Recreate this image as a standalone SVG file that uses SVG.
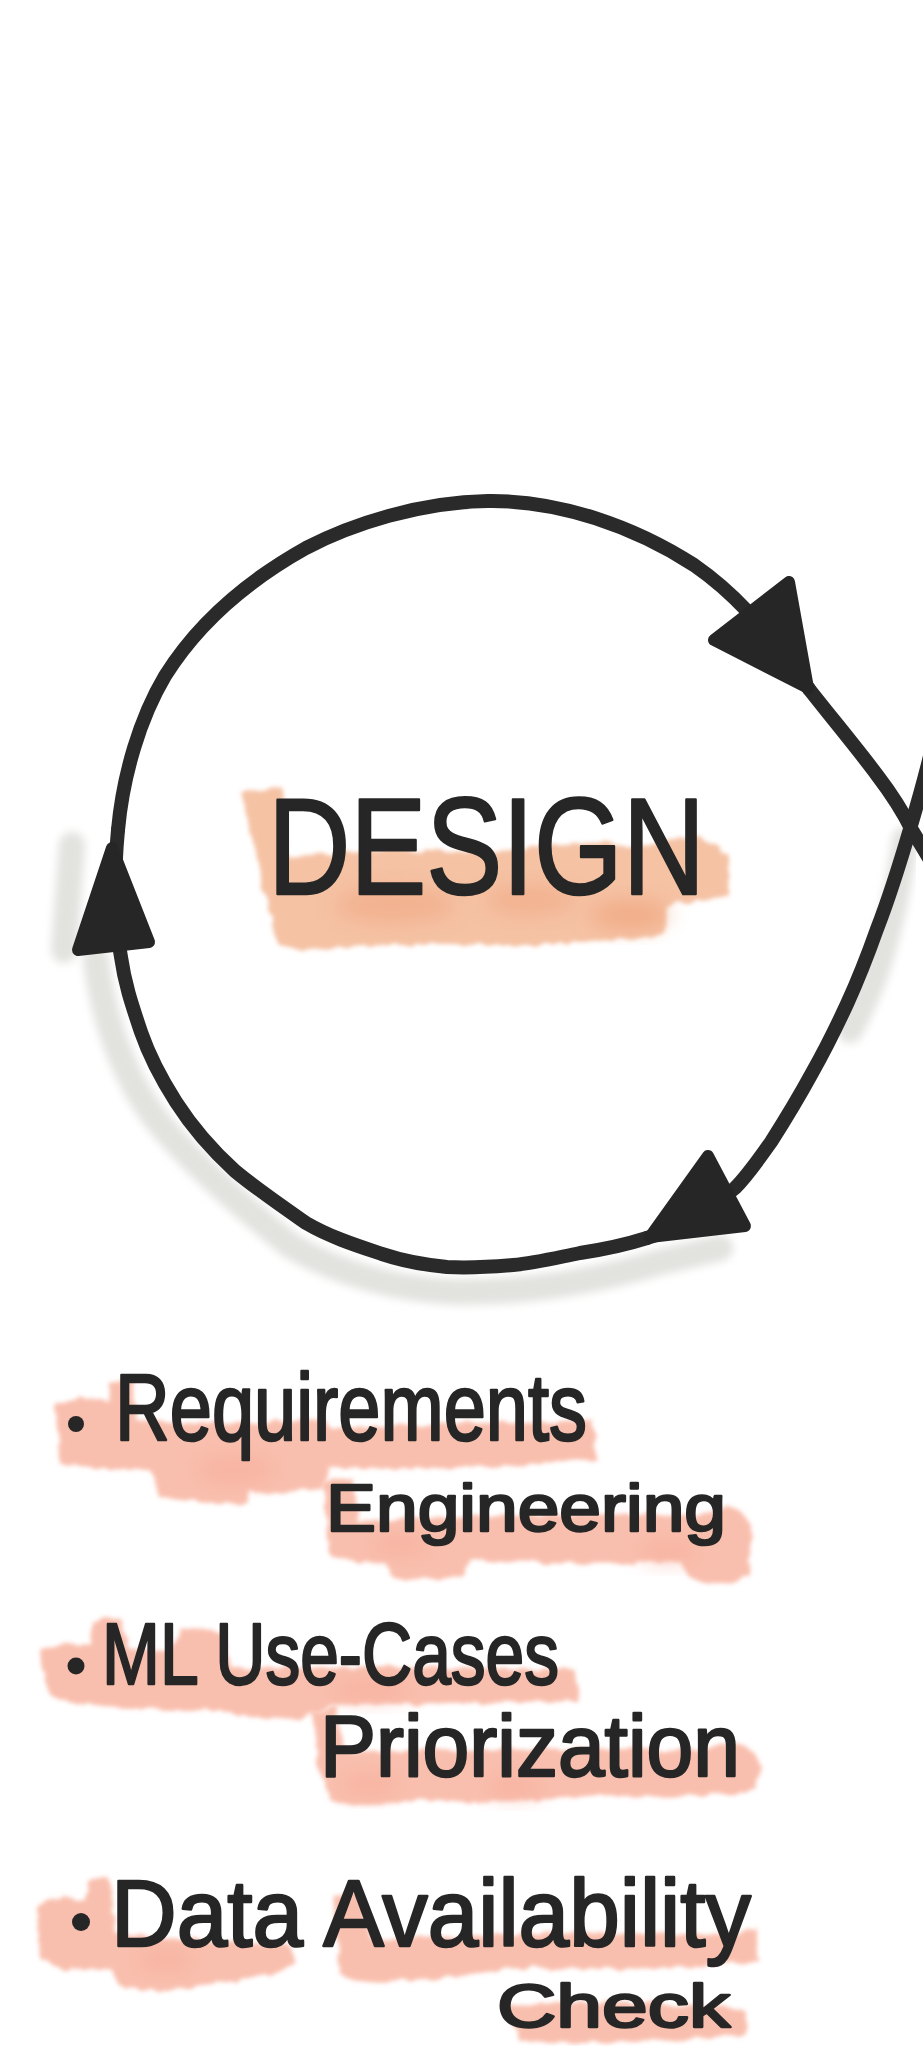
<svg xmlns="http://www.w3.org/2000/svg" width="923" height="2046" viewBox="0 0 923 2046">
<defs>
<style>
.ln{fill:none;stroke:#2a2a2a;stroke-width:14;stroke-linecap:round;stroke-linejoin:round}
.ah{fill:#262626;stroke:#262626;stroke-width:12;stroke-linejoin:round}
.sh{fill:none;stroke:#e2e2df;stroke-width:26;stroke-linecap:round;filter:url(#blur)}
.hp{fill:#f9bfae;filter:url(#wc)}
.ho{fill:#f5c2a4;filter:url(#wc)}
.t{font-family:"Liberation Sans",Arial,sans-serif;fill:#262626;stroke:#262626;stroke-width:2.5;stroke-linejoin:round;stroke-linecap:round}
</style>
<filter id="wc" x="-10%" y="-40%" width="120%" height="180%">
<feTurbulence type="fractalNoise" baseFrequency="0.07" numOctaves="2" seed="4" result="n"/>
<feDisplacementMap in="SourceGraphic" in2="n" scale="9" xChannelSelector="R" yChannelSelector="G" result="d"/>
<feGaussianBlur in="d" stdDeviation="2.2"/>
</filter>
<filter id="blur" x="-20%" y="-20%" width="140%" height="140%"><feGaussianBlur stdDeviation="4"/></filter>
<filter id="spot" x="-50%" y="-50%" width="200%" height="200%"><feGaussianBlur stdDeviation="10"/></filter>
</defs>
<rect width="923" height="2046" fill="#ffffff"/>

<g id="shadows">
<path class="sh" d="M72,845 L64,950 M96,960 C105,1030 130,1090 165,1130 C200,1170 240,1205 290,1245 C340,1275 400,1290 460,1292 C530,1292 600,1280 660,1262 L720,1248"/>
<path class="sh" d="M905,840 C900,880 890,930 875,975 C865,1000 858,1015 850,1030"/>
</g>

<g id="design-highlight">
<path class="ho" d="M241,792 L282,786 L288,858 Q400,846 500,852 Q580,838 640,846 L700,836 L729,855 L728,896 L668,905 L664,936 Q560,944 500,946 Q400,940 300,950 L278,946 L262,880 Z"/>
<ellipse cx="395" cy="905" rx="60" ry="18" fill="#efa27c" opacity="0.5" filter="url(#spot)"/>
<ellipse cx="530" cy="900" rx="45" ry="15" fill="#efa27c" opacity="0.5" filter="url(#spot)"/>
<ellipse cx="630" cy="915" rx="40" ry="15" fill="#ee9c72" opacity="0.55" filter="url(#spot)"/>
</g>

<g id="connectors">
<path class="ln" d="M118,830 C123,775 140,718 165,676 C195,628 240,585 306,548 C352,524 420,502 488,501 C560,500 635,527 694,565 C730,590 762,622 809,689"/>
<path class="ln" d="M809,689 C835,722 860,752 877,775 C890,792 902,810 912,830 L935,868"/>
<path class="ln" d="M935,735 C925,780 898,875 877,929 C866,960 858,980 847,1004 C835,1030 825,1050 812,1073 C800,1095 785,1120 771,1142 C758,1160 748,1175 735,1188 C715,1205 690,1225 647,1238"/>
<path class="ln" d="M647,1238 C625,1245 600,1250 580,1253 C555,1258 535,1263 513,1265 C490,1267 468,1268 447,1267 C425,1265 400,1260 382,1254 C355,1245 330,1237 306,1223 C280,1205 258,1190 235,1171 C212,1150 192,1127 176,1102 C162,1080 150,1058 141,1032 C132,1005 125,985 121,957 C117,935 115,915 115,900 C115,870 116,850 118,830"/>
<polygon class="ah" points="789,582 714,640 808,688"/>
<polygon class="ah" points="708,1156 745,1226 650,1237"/>
<polygon class="ah" points="112,848 78,950 149,942"/>
</g>

<g id="design-label">
<text class="t" x="268" y="894" font-size="138" textLength="437" lengthAdjust="spacingAndGlyphs" stroke-width="1">DESIGN</text>
</g>

<g id="item-requirements">
<path class="hp" d="M55,1405 Q80,1396 108,1400 L110,1382 L132,1378 L138,1420 Q220,1426 322,1420 L332,1428 Q450,1424 593,1420 L596,1460 Q450,1470 330,1468 L322,1488 Q270,1495 250,1490 L248,1502 Q200,1506 160,1496 L150,1470 Q100,1470 60,1465 Z"/>
<ellipse cx="235" cy="1470" rx="40" ry="15" fill="#f7a996" opacity="0.5" filter="url(#spot)"/>
<path class="hp" d="M322,1482 L352,1478 L360,1520 Q540,1512 700,1515 L730,1505 Q752,1515 752,1540 L750,1575 Q720,1590 690,1578 L680,1562 Q560,1566 470,1560 L465,1576 Q420,1584 395,1578 L385,1562 Q350,1562 330,1556 Z"/>
<ellipse cx="400" cy="1545" rx="30" ry="12" fill="#f7a996" opacity="0.5" filter="url(#spot)"/>
<ellipse cx="668" cy="1552" rx="30" ry="12" fill="#f7a996" opacity="0.5" filter="url(#spot)"/>
<circle cx="76" cy="1424" r="8" fill="#262626"/>
<text class="t" x="115" y="1440" font-size="94" textLength="472" lengthAdjust="spacingAndGlyphs">Requirements</text>
<text class="t" x="326" y="1531" font-size="66" textLength="400" lengthAdjust="spacingAndGlyphs">Engineering</text>
</g>

<g id="item-usecases">
<path class="hp" d="M40,1650 Q60,1640 90,1645 L92,1622 L120,1618 L130,1650 L170,1650 L180,1630 Q200,1625 225,1635 L230,1668 Q400,1666 575,1670 L578,1700 Q450,1705 330,1706 L300,1720 Q250,1718 220,1710 Q130,1712 60,1700 Q42,1690 40,1650 Z"/>
<ellipse cx="370" cy="1690" rx="40" ry="12" fill="#f7a996" opacity="0.5" filter="url(#spot)"/>
<path class="hp" d="M313,1712 L335,1706 L345,1752 Q500,1746 700,1750 L735,1743 Q760,1750 760,1770 L755,1790 Q700,1800 600,1795 Q500,1805 420,1800 Q360,1810 330,1800 L320,1770 Z"/>
<ellipse cx="370" cy="1785" rx="30" ry="12" fill="#f7a996" opacity="0.5" filter="url(#spot)"/>
<ellipse cx="515" cy="1787" rx="30" ry="12" fill="#f7a996" opacity="0.5" filter="url(#spot)"/>
<circle cx="76" cy="1666" r="8.5" fill="#262626"/>
<text class="t" x="102" y="1684" font-size="88" textLength="457" lengthAdjust="spacingAndGlyphs">ML Use-Cases</text>
<text class="t" x="320" y="1776" font-size="88" textLength="420" lengthAdjust="spacingAndGlyphs">Priorization</text>
</g>

<g id="item-data">
<path class="hp" d="M37,1905 Q60,1895 85,1900 L88,1880 L110,1876 L115,1935 Q200,1940 290,1945 L298,1965 Q260,1980 200,1985 Q160,1995 120,1985 L110,1968 Q60,1975 40,1960 Z"/>
<ellipse cx="165" cy="1960" rx="30" ry="12" fill="#f7a996" opacity="0.5" filter="url(#spot)"/>
<path class="hp" d="M333,1895 L360,1890 L370,1940 Q550,1930 720,1935 L757,1928 L757,1962 Q640,1972 520,1968 L420,1980 Q360,1985 340,1975 Z"/>
<path class="hp" d="M505,2005 Q600,2000 700,2005 L745,2010 L747,2035 Q700,2042 650,2040 Q580,2046 520,2040 Z"/>
<circle cx="81" cy="1922" r="9" fill="#262626"/>
<text class="t" x="111" y="1946" font-size="94" textLength="640" lengthAdjust="spacingAndGlyphs">Data Availability</text>
<text class="t" x="497" y="2027" font-size="62" textLength="233" lengthAdjust="spacingAndGlyphs">Check</text>
</g>
</svg>
